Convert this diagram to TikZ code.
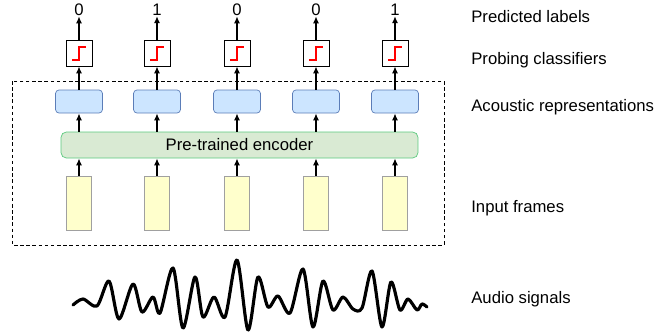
\documentclass[tikz,border=0pt]{standalone}
\usepackage{fontspec}
\setmainfont{Liberation Sans}
\usetikzlibrary{arrows.meta}
\usetikzlibrary{positioning}

\definecolor{reprfill}{HTML}{CCE5FF}
\definecolor{reprline}{HTML}{5B7DB8}
\definecolor{encfill}{HTML}{D9EAD3}
\definecolor{encline}{HTML}{5CC97E}
\definecolor{framefill}{HTML}{FFFFCC}
\definecolor{frameline}{HTML}{A0A0A0}

\tikzset{
  txt/.style={font=\fontsize{9.5}{11}\selectfont, inner sep=0pt},
  classbox/.style={draw, fill=white, minimum width=0.52cm, minimum height=0.52cm, inner sep=0pt},
  reprbox/.style={draw=reprline, fill=reprfill, rounded corners=2pt, minimum width=0.94cm, minimum height=0.46cm, inner sep=0pt},
  encbox/.style={draw=encline, fill=encfill, rounded corners=3pt, minimum width=7.14cm, minimum height=0.52cm, inner sep=0pt, font=\fontsize{9.5}{11}\selectfont},
  framebox/.style={draw=frameline, fill=framefill, minimum width=0.5cm, minimum height=1.08cm, inner sep=0pt},
  arr/.style={-{Latex[length=4pt,width=3.5pt]}, thick},
  stepline/.style={red, line width=1.4pt},
}

\begin{document}
\begin{tikzpicture}[x=0.02cm, y=-0.02cm]
  \useasboundingbox (0,0) rectangle (670,332);

  % encoder frame
  \draw[dashed, dash pattern=on 2pt off 1.5pt] (12,81) rectangle (444,245);
  \node[encbox] (enc) at (239.5,145) {Pre-trained encoder};

  \foreach \x/\lab [count=\i] in {79/0,157/1,237/0,316/0,395/1} {
    \node[framebox] (frm\i) at (\x,203) {};
    \node[reprbox] (rep\i) at (\x,101.5) {};
    \node[classbox] (cls\i) at (\x,53) {};
    \node[txt] (lbl\i) at (\x,10) {\lab};
    \draw[arr] (frm\i.north) -- (frm\i.north |- enc.south);
    \draw[arr] (rep\i.south |- enc.north) -- (rep\i.south);
    \draw[arr] (rep\i.north) -- (cls\i.south);
    \draw[arr] (cls\i.north) -- (lbl\i.south);
    \draw[stepline] (cls\i.center) ++(-7,7) -- ++(7,0) -- ++(0,-13) -- ++(7,0);
  }

  % audio signal
  \draw[line width=1.8pt, line join=round, line cap=round] plot[smooth, tension=0.5] coordinates {
    (73,305) (83,299) (97,306) (109,281) (119,319) (133,284) (142,312)
    (153,297) (160,313) (173,268) (183,328) (195,277) (203,317) (214,297)
    (225,317) (237,260) (248,330) (258,277) (268,307) (278,296) (290,313)
    (303,269) (313,327) (323,281) (333,310) (343,297) (353,309) (362,308)
    (372,271) (382,327) (391,282) (400,310) (408,299) (417,310) (422,304) (427,307)};

  % captions
  \node[txt, anchor=west] (capLbl) at (471,17) {Predicted labels};
  \node[txt, anchor=west] (capCls) at (471,60) {Probing classifiers};
  \node[txt, anchor=west] (capRep) at (471,107) {Acoustic representations};
  \node[txt, anchor=west] (capFrm) at (471,208) {Input frames};
  \node[txt, anchor=west] (capSig) at (471,299) {Audio signals};
\end{tikzpicture}
\end{document}
